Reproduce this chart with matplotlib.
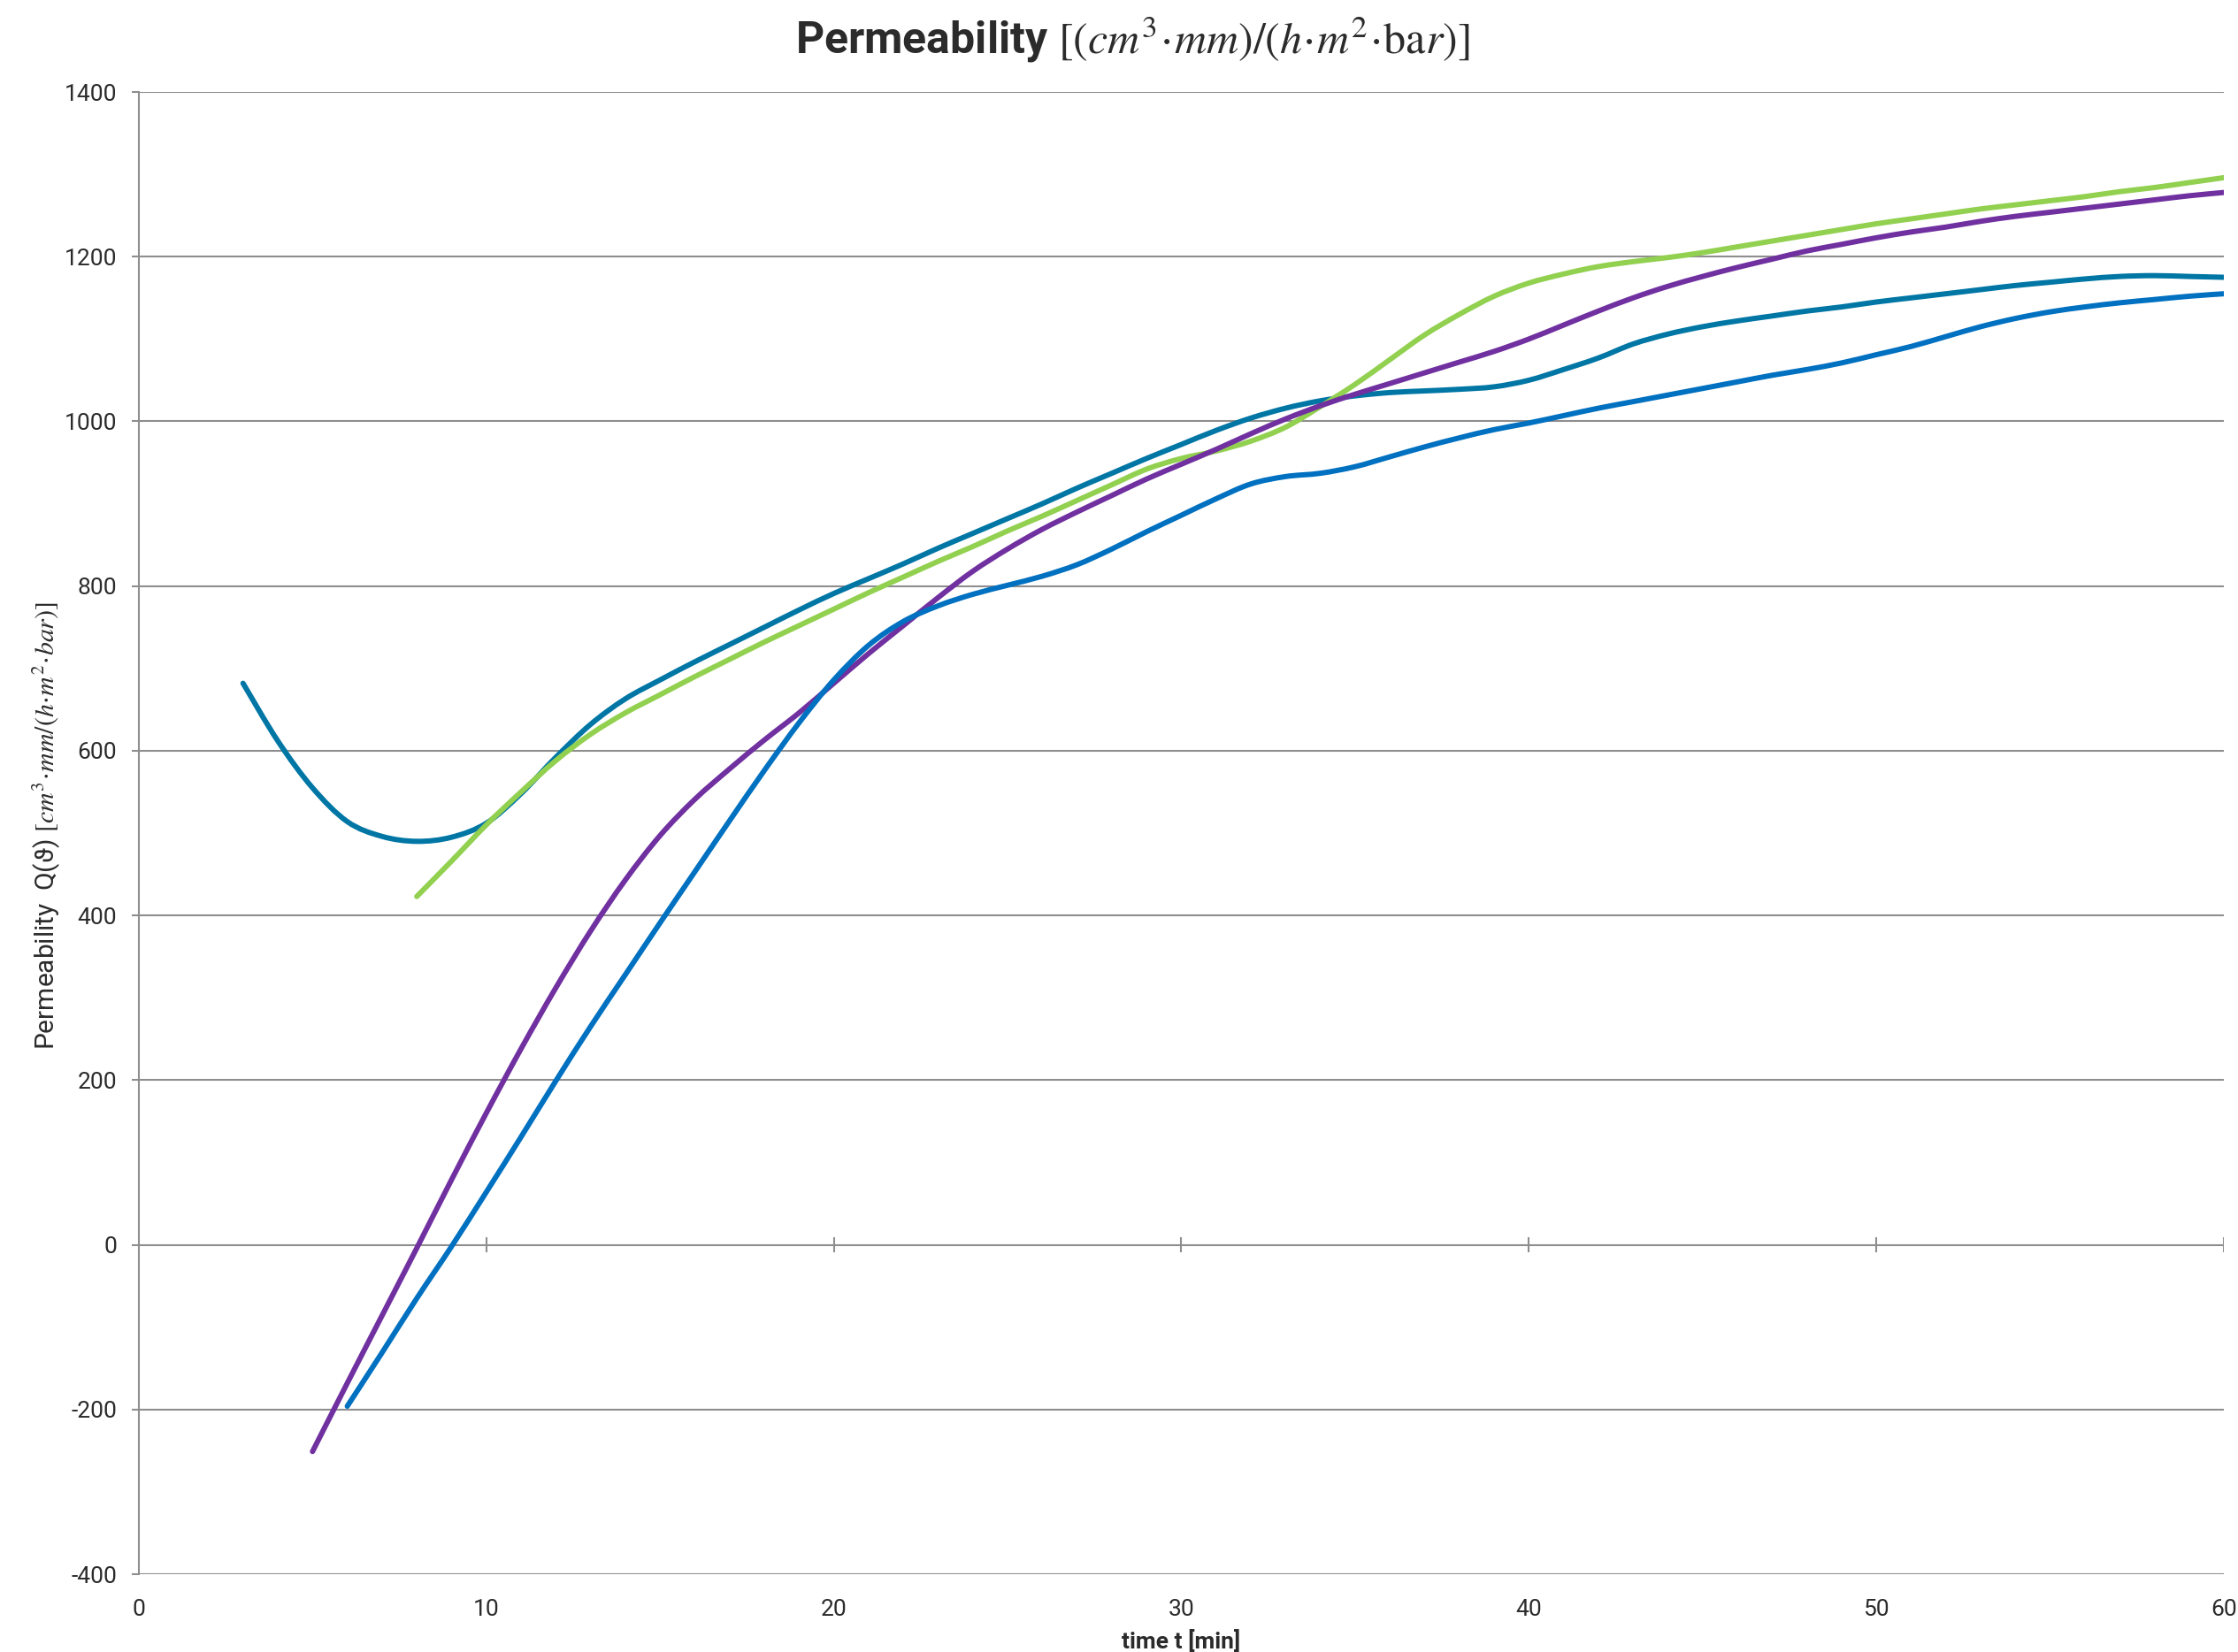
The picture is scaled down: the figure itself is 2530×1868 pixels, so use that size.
import numpy as np
import matplotlib
matplotlib.use("Agg")
import matplotlib.pyplot as plt
from matplotlib.path import Path
from matplotlib.patches import PathPatch

plt.rcParams["font.family"] = ["Roboto", "DejaVu Sans"]
plt.rcParams["mathtext.fontset"] = "stix"
plt.rcParams["axes.unicode_minus"] = False

# values
x_teal = list(range(3, 61))
y_teal = [682, 612, 555, 514, 496, 490, 495, 512, 548, 592, 632, 663, 686, 708,
          729, 750, 771, 791, 809, 827, 846, 864, 882, 900, 919, 937, 955, 972,
          989, 1004, 1016, 1025, 1031, 1035, 1037, 1039, 1042, 1050, 1063, 1077,
          1094, 1106, 1115, 1122, 1128, 1134, 1139, 1145, 1150, 1155, 1160, 1165,
          1169, 1173, 1176, 1177, 1176, 1175]

x_green = list(range(8, 61))
y_green = [423, 466, 510, 550, 588, 620, 646, 668, 690, 711, 732, 752, 772, 792,
           811, 830, 848, 867, 885, 904, 923, 942, 955, 964, 976, 993, 1018, 1045,
           1075, 1105, 1130, 1152, 1168, 1179, 1188, 1194, 1199, 1205, 1212, 1219,
           1226, 1233, 1240, 1246, 1252, 1258, 1263, 1268, 1273, 1279, 1284, 1290,
           1296]

x_purple = list(range(5, 61))
y_purple = [-251, -168, -86, -4, 79, 160, 238, 312, 381, 443, 497, 541, 578, 613,
            646, 682, 718, 752, 786, 818, 845, 869, 890, 910, 930, 948, 966, 985,
            1003, 1019, 1033, 1046, 1059, 1072, 1085, 1100, 1117, 1134, 1150, 1164,
            1176, 1187, 1197, 1207, 1215, 1223, 1230, 1236, 1243, 1249, 1254, 1259,
            1264, 1269, 1274, 1278]

x_blue = list(range(6, 61))
y_blue = [-196, -131, -65, -2, 64, 131, 199, 265, 328, 391, 453, 515, 576, 634,
          686, 728, 757, 776, 790, 801, 812, 826, 845, 866, 886, 906, 924, 933,
          937, 945, 957, 969, 980, 990, 998, 1007, 1016, 1024, 1032, 1040, 1048,
          1056, 1063, 1071, 1081, 1091, 1103, 1115, 1125, 1133, 1139, 1144, 1148,
          1152, 1155]

x_ticks = [0, 10, 20, 30, 40, 50, 60]
y_ticks = [-400, -200, 0, 200, 400, 600, 800, 1000, 1200, 1400]

GRID = "#8e8e8e"
TEXT = "#2b2b2b"


def smooth_line(ax, xs, ys, color, lw, z):
    # spreadsheet-style smoothed line: cubic Bezier through every data point
    p = np.column_stack([xs, ys]).astype(float)
    ext = np.vstack([p[0], p, p[-1]])
    verts = [p[0]]
    codes = [Path.MOVETO]
    for i in range(len(p) - 1):
        p0, p1, p2, p3 = ext[i], ext[i + 1], ext[i + 2], ext[i + 3]
        verts += [p1 + (p2 - p0) / 6, p2 - (p3 - p1) / 6, p2]
        codes += [Path.CURVE4] * 3
    patch = PathPatch(Path(verts, codes), facecolor="none", edgecolor=color,
                      lw=lw, capstyle="round", joinstyle="round", zorder=z)
    ax.add_patch(patch)


fig = plt.figure(figsize=(25.3, 18.68), dpi=100)
ax = fig.add_axes([0.062, 0.0471, 0.9317, 0.8972])

for y in y_ticks:
    ax.axhline(y, color=GRID, lw=1.5, zorder=1)
ax.vlines(x_ticks[1:], -9, 9, color=GRID, lw=1.5, zorder=1)

lw = 4.3
smooth_line(ax, x_teal, y_teal, "#0076a5", lw, 3)
smooth_line(ax, x_green, y_green, "#92d050", lw, 3)
smooth_line(ax, x_purple, y_purple, "#7030a0", lw, 3)
smooth_line(ax, x_blue, y_blue, "#0070c0", lw, 4)

ax.set_xlim(0, 60)
ax.set_ylim(-400, 1400)
ax.set_xticks(x_ticks)
ax.set_yticks(y_ticks)

for s in ["top", "right", "bottom"]:
    ax.spines[s].set_visible(False)
ax.spines["left"].set_color(GRID)
ax.spines["left"].set_linewidth(1.5)

ax.tick_params(axis="y", length=5.8, width=1.5, color=GRID, pad=12,
               labelsize=19, labelcolor=TEXT)
ax.tick_params(axis="x", length=0, pad=20, labelsize=19, labelcolor=TEXT)

ax.set_xlabel("time t [min]", fontsize=19, fontweight="bold", color=TEXT,
              labelpad=8)

fig.text(0.021, 0.5,
         r"Permeability  Q(ϑ) $[cm^3\!\cdot\! mm/(h\!\cdot\! m^2\!\cdot\! bar)]$",
         rotation=90, ha="center", va="center", fontsize=21.5, color=TEXT)

fig.text(0.506, 0.976,
         r"Permeability $[(cm^3\!\cdot\! mm)/(h\!\cdot\! m^2\!\cdot\!\mathrm{ba}r)]$",
         ha="center", va="center", fontsize=36, fontweight="bold", color=TEXT)

fig.savefig("out.png", dpi=100)
